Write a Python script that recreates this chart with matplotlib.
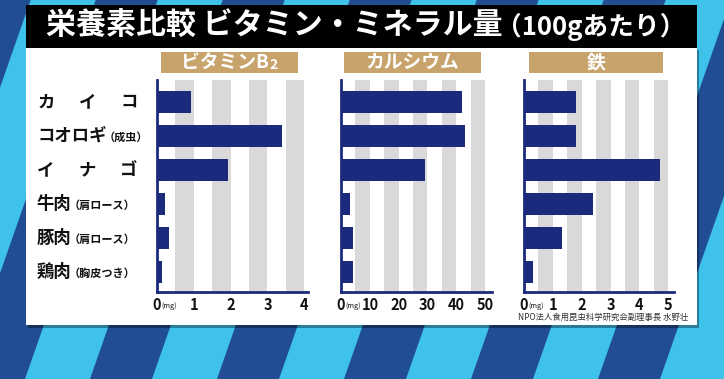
import matplotlib
matplotlib.use("Agg")
import matplotlib.pyplot as plt
import matplotlib.transforms as mtrans
from matplotlib.patches import Rectangle, Polygon

plt.rcParams['font.family'] = ['Noto Sans CJK JP', 'DejaVu Sans']

# データ (100gあたり)
foods = ["カイコ", "コオロギ", "イナゴ", "牛肉", "豚肉", "鶏肉"]
food_notes = ["", "（成虫）", "", "（肩ロース）", "（肩ロース）", "（胸皮つき）"]
vitamin_b2 = [0.93, 3.40, 1.93, 0.23, 0.32, 0.13]
calcium = [42, 43, 29, 3, 4, 4]
iron = [1.8, 1.8, 4.7, 2.4, 1.3, 0.3]

panel_titles = ["ビタミンB", "カルシウム", "鉄"]
panel_title_subs = ["2", "", ""]
ticks_b2 = [0, 1, 2, 3, 4]
ticks_ca = [0, 10, 20, 30, 40, 50]
ticks_fe = [0, 1, 2, 3, 4, 5]

title_main = "栄養素比較 ビタミン・ミネラル量"
title_sub = "（100gあたり）"
source = "NPO法人食用昆虫科学研究会副理事長 水野壮"

W, H = 724, 379
NAVY = "#1c2a7e"
TAN = "#c8a36b"
BAND = "#d9d9d9"


def px(x, y):
    return (x / W, 1 - y / H)


fig = plt.figure(figsize=(W / 100, H / 100), dpi=100)
fig.patch.set_facecolor("#214d93")

# 背景のななめストライプ
slope = 0.35
for k in range(-2, 7):
    x0 = 25 + 127 * k
    pts = [px(x0, H), px(x0 + 65, H), px(x0 + 65 + slope * H, 0), px(x0 + slope * H, 0)]
    fig.add_artist(Polygon(pts, closed=True, transform=fig.transFigure,
                           facecolor="#3ec2ea", edgecolor="none", zorder=-5))

# 白パネルとタイトル帯
fig.add_artist(Rectangle(px(28, 328), 671 / W, 278 / H, transform=fig.transFigure,
                         facecolor="black", alpha=0.35, edgecolor="none", zorder=-4))
fig.add_artist(Rectangle(px(26, 325), 671 / W, 277 / H, transform=fig.transFigure,
                         facecolor="white", edgecolor="none", zorder=-3))
fig.add_artist(Rectangle(px(26, 48), 671 / W, 43 / H, transform=fig.transFigure,
                         facecolor="black", edgecolor="none", zorder=-3))

fig.text(*px(46, 26), title_main, color="white", fontsize=21.6, fontweight="bold",
         ha="left", va="center")
fig.text(*px(496, 27), title_sub, color="white", fontsize=18.5, fontweight="bold",
         ha="left", va="center")

renderer = fig.canvas.get_renderer()

panels = [
    (157, 308, 4.1, vitamin_b2, ticks_b2, (161, 298)),
    (341, 492, 52.4, calcium, ticks_ca, (344, 481)),
    (524, 674, 5.2, iron, ticks_fe, (529, 663)),
]

axes = []
for i, (left, right, xmax, vals, ticks, box) in enumerate(panels):
    ax = fig.add_axes([left / W, 1 - 292 / H, (right - left) / W, 212 / H])
    ax.set_facecolor("none")
    ax.barh(range(len(vals)), vals, height=0.65, color=NAVY, zorder=3)
    step = ticks[1] - ticks[0]
    for v in ticks[1:]:
        ax.axvspan(v - step / 2, v, color=BAND, lw=0, zorder=1)
    ax.set_xlim(0, xmax)
    ax.set_ylim(5.59, -0.65)
    ax.set_yticks([])
    ax.set_xticks(ticks)
    ax.set_xticklabels([str(t) for t in ticks])
    ax.tick_params(axis="x", length=0, pad=3.5, labelsize=10.5, labelcolor="#111111")
    for lab in ax.get_xticklabels():
        lab.set_fontweight("bold")
    for s in ["top", "right"]:
        ax.spines[s].set_visible(False)
    for s in ["left", "bottom"]:
        ax.spines[s].set_color(NAVY)
        ax.spines[s].set_linewidth(2)
    ax.annotate("(mg)", xy=(0, 0), xycoords=ax.get_xaxis_transform(),
                xytext=(3.3, -9.8), textcoords="offset points",
                ha="left", va="center", fontsize=5.2, color="#111111")
    axes.append(ax)

    # 見出しボックス
    bx0, bx1 = box
    fig.add_artist(Rectangle(px(bx0, 73), (bx1 - bx0) / W, 21 / H,
                             transform=fig.transFigure, facecolor=TAN,
                             edgecolor="none", zorder=1))
    cx = (bx0 + bx1) / 2
    t = fig.text(*px(cx, 62.5), panel_titles[i], color="white", fontsize=13.5,
                 fontweight="bold", ha="center", va="center", zorder=4)
    if panel_title_subs[i]:
        sub = fig.text(0, 0, panel_title_subs[i], color="white", fontsize=10,
                       fontweight="bold", ha="left", va="center", zorder=4)
        w_main = t.get_window_extent(renderer).width
        w_sub = sub.get_window_extent(renderer).width
        start = cx - (w_main + w_sub) / 2
        t.set_ha("left")
        t.set_position(px(start, 62.5))
        sub.set_position(px(start + w_main, 65))

# 行ラベル
trans = mtrans.blended_transform_factory(fig.transFigure, axes[0].transData)
for i, (name, note) in enumerate(zip(foods, food_notes)):
    if not note:
        n = len(name)
        for j, ch in enumerate(name):
            xc = 46 + j * (129 - 46) / (n - 1)
            fig.text(xc / W, i, ch, transform=trans, fontsize=12.5, fontweight="bold",
                     color="#111111", ha="center", va="center")
    else:
        t = fig.text(37 / W, i, name, transform=trans, fontsize=12.5, fontweight="bold",
                     color="#111111", ha="left", va="center")
        w = t.get_window_extent(renderer).width
        fig.text((37 + w - 3) / W, i + 0.04, note, transform=trans, fontsize=8,
                 fontweight="bold", color="#111111", ha="left", va="center")

fig.text(*px(688, 317), source, fontsize=6, color="#333333", ha="right", va="center")

fig.savefig("out.png", dpi=100)
